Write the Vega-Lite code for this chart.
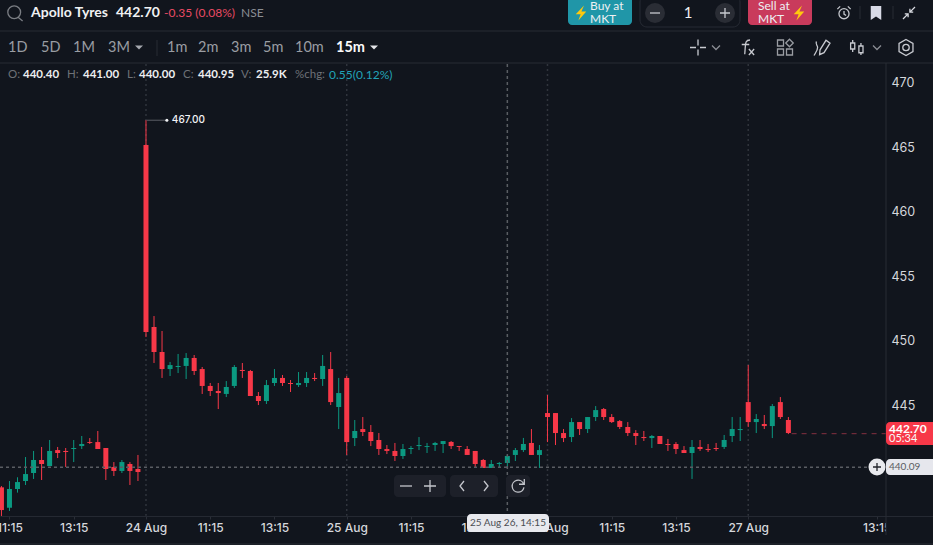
{
  "$schema": "https://vega.github.io/schema/vega-lite/v6.json",
  "width": 933,
  "height": 545,
  "padding": 0,
  "autosize": {"type": "none"},
  "background": "#11151D",
  "config": {"view": {"stroke": null}},
  "datasets": {
    "candles": [
      {"i":-18,"open":438.54,"high":438.64,"low":436.32,"close":436.78},
      {"i":-17,"open":436.96,"high":439.03,"low":436.71,"close":438.41},
      {"i":-16,"open":438.41,"high":439.32,"low":438.13,"close":438.95},
      {"i":-15,"open":439.03,"high":440.89,"low":438.72,"close":439.57},
      {"i":-14,"open":439.65,"high":441.36,"low":439.19,"close":440.66},
      {"i":-13,"open":440.66,"high":441.67,"low":439.11,"close":440.35},
      {"i":-12,"open":440.19,"high":442.21,"low":440.19,"close":441.36},
      {"i":-11,"open":441.43,"high":441.67,"low":440.81,"close":441.2},
      {"i":-10,"open":441.36,"high":441.59,"low":440.12,"close":441.28},
      {"i":-9,"open":441.51,"high":442.21,"low":440.5,"close":441.59},
      {"i":-8,"open":441.74,"high":442.52,"low":441.51,"close":441.9},
      {"i":-7,"open":442.05,"high":442.36,"low":441.9,"close":441.98},
      {"i":-6,"open":442.05,"high":442.91,"low":441.51,"close":441.51},
      {"i":-5,"open":441.59,"high":441.59,"low":439.11,"close":439.96},
      {"i":-4,"open":440.12,"high":440.5,"low":439.42,"close":439.81},
      {"i":-3,"open":439.81,"high":440.66,"low":439.65,"close":440.5},
      {"i":-2,"open":440.35,"high":440.5,"low":438.72,"close":439.81},
      {"i":-1,"open":439.96,"high":441.05,"low":439.03,"close":439.73},
      {"i":0,"open":465.08,"high":467.0,"low":450.19,"close":450.58},
      {"i":1,"open":450.97,"high":451.82,"low":448.18,"close":449.03},
      {"i":2,"open":449.03,"high":450.66,"low":447.02,"close":447.71},
      {"i":3,"open":447.71,"high":448.26,"low":447.17,"close":448.02},
      {"i":4,"open":447.87,"high":448.88,"low":447.4,"close":447.95},
      {"i":5,"open":447.95,"high":448.95,"low":446.94,"close":448.57},
      {"i":6,"open":448.57,"high":448.8,"low":447.25,"close":447.56},
      {"i":7,"open":447.71,"high":447.87,"low":445.78,"close":446.4},
      {"i":8,"open":446.4,"high":446.63,"low":445.62,"close":446.01},
      {"i":9,"open":446.01,"high":446.63,"low":444.61,"close":445.85},
      {"i":10,"open":445.78,"high":446.78,"low":445.54,"close":446.32},
      {"i":11,"open":446.4,"high":448.02,"low":446.24,"close":447.87},
      {"i":12,"open":447.64,"high":448.18,"low":447.02,"close":447.56},
      {"i":13,"open":447.56,"high":447.64,"low":445.62,"close":445.62},
      {"i":14,"open":445.62,"high":445.93,"low":444.92,"close":445.23},
      {"i":15,"open":445.23,"high":446.86,"low":445.0,"close":446.47},
      {"i":16,"open":446.63,"high":447.71,"low":446.4,"close":447.02},
      {"i":17,"open":447.02,"high":447.25,"low":446.4,"close":446.63},
      {"i":18,"open":446.63,"high":446.86,"low":445.93,"close":446.55},
      {"i":19,"open":446.47,"high":447.48,"low":446.32,"close":446.63},
      {"i":20,"open":446.63,"high":447.48,"low":446.32,"close":447.02},
      {"i":21,"open":447.02,"high":447.4,"low":446.78,"close":446.94},
      {"i":22,"open":446.94,"high":448.8,"low":446.4,"close":447.95},
      {"i":23,"open":447.71,"high":449.03,"low":444.92,"close":445.15},
      {"i":24,"open":444.77,"high":447.02,"low":443.06,"close":445.85},
      {"i":25,"open":447.02,"high":447.17,"low":441.05,"close":442.05},
      {"i":26,"open":442.36,"high":443.76,"low":441.74,"close":442.91},
      {"i":27,"open":443.06,"high":443.99,"low":442.52,"close":442.83},
      {"i":28,"open":442.83,"high":443.37,"low":441.74,"close":442.13},
      {"i":29,"open":442.21,"high":442.75,"low":441.05,"close":441.51},
      {"i":30,"open":441.51,"high":441.82,"low":441.12,"close":441.36},
      {"i":31,"open":441.36,"high":441.98,"low":440.58,"close":440.97},
      {"i":32,"open":440.97,"high":441.9,"low":440.74,"close":441.51},
      {"i":33,"open":441.51,"high":441.74,"low":441.12,"close":441.59},
      {"i":34,"open":441.74,"high":442.44,"low":441.43,"close":441.82},
      {"i":35,"open":441.67,"high":441.98,"low":441.2,"close":441.74},
      {"i":36,"open":441.82,"high":442.06,"low":441.36,"close":441.98},
      {"i":37,"open":441.9,"high":442.13,"low":441.2,"close":442.13},
      {"i":38,"open":442.06,"high":442.13,"low":441.51,"close":441.74},
      {"i":39,"open":441.74,"high":441.74,"low":441.36,"close":441.67},
      {"i":40,"open":441.51,"high":441.74,"low":441.05,"close":441.05},
      {"i":41,"open":441.36,"high":441.36,"low":440.12,"close":440.35},
      {"i":42,"open":440.66,"high":440.74,"low":440.04,"close":440.04},
      {"i":43,"open":440.04,"high":440.66,"low":440.04,"close":440.35},
      {"i":44,"open":440.35,"high":440.5,"low":440.04,"close":440.43},
      {"i":45,"open":440.43,"high":441.05,"low":440.12,"close":440.97},
      {"i":46,"open":441.05,"high":441.59,"low":440.58,"close":441.43},
      {"i":47,"open":441.43,"high":442.37,"low":441.28,"close":441.9},
      {"i":48,"open":441.98,"high":443.06,"low":441.05,"close":441.05},
      {"i":49,"open":441.05,"high":441.82,"low":440.04,"close":441.43},
      {"i":50,"open":444.3,"high":445.7,"low":442.05,"close":443.99},
      {"i":51,"open":444.3,"high":444.3,"low":441.82,"close":442.75},
      {"i":52,"open":442.75,"high":443.06,"low":442.05,"close":442.36},
      {"i":53,"open":442.44,"high":443.91,"low":442.05,"close":443.6},
      {"i":54,"open":443.6,"high":443.6,"low":442.6,"close":443.06},
      {"i":55,"open":443.06,"high":443.99,"low":442.75,"close":443.99},
      {"i":56,"open":443.99,"high":444.84,"low":443.68,"close":444.53},
      {"i":57,"open":444.61,"high":444.69,"low":443.76,"close":443.99},
      {"i":58,"open":443.99,"high":444.22,"low":443.53,"close":443.6},
      {"i":59,"open":443.68,"high":443.76,"low":443.06,"close":443.22},
      {"i":60,"open":443.22,"high":443.6,"low":442.52,"close":442.75},
      {"i":61,"open":442.75,"high":442.98,"low":441.82,"close":442.52},
      {"i":62,"open":442.44,"high":442.91,"low":442.13,"close":442.36},
      {"i":63,"open":442.36,"high":442.6,"low":441.59,"close":442.52},
      {"i":64,"open":442.52,"high":442.52,"low":441.9,"close":441.9},
      {"i":65,"open":441.9,"high":442.29,"low":441.36,"close":441.82},
      {"i":66,"open":441.9,"high":442.05,"low":441.12,"close":441.51},
      {"i":67,"open":441.43,"high":441.74,"low":441.2,"close":441.2},
      {"i":68,"open":441.2,"high":442.21,"low":439.19,"close":441.67},
      {"i":69,"open":441.67,"high":442.21,"low":441.36,"close":441.51},
      {"i":70,"open":441.51,"high":441.9,"low":441.28,"close":441.43},
      {"i":71,"open":441.59,"high":441.98,"low":441.36,"close":441.51},
      {"i":72,"open":441.67,"high":442.6,"low":441.51,"close":442.21},
      {"i":73,"open":442.52,"high":443.99,"low":442.05,"close":443.06},
      {"i":74,"open":442.98,"high":443.99,"low":442.13,"close":443.06},
      {"i":75,"open":445.15,"high":448.02,"low":443.22,"close":443.6},
      {"i":76,"open":443.6,"high":444.22,"low":442.75,"close":443.84},
      {"i":77,"open":443.45,"high":444.15,"low":443.06,"close":443.29},
      {"i":78,"open":443.29,"high":445.0,"low":442.36,"close":444.84},
      {"i":79,"open":445.15,"high":445.54,"low":443.84,"close":443.99},
      {"i":80,"open":443.76,"high":443.99,"low":442.67,"close":442.75}
    ],
    "days": [{"i":0},{"i":25},{"i":50},{"i":75}],
    "crosshair": [{"i":45,"price":440.09}],
    "last": [{"i":80.4,"to":92.16,"price":442.7}],
    "peak": [{"i":0.1,"to":2.6,"price":467,"text":"467.00"}],
    "rects": [
      {"part":"buy","at":40,"to":43,"line":0,"lineTo":4},
      {"part":"sell","at":52,"to":56,"line":0,"lineTo":4},
      {"part":"pill","at":26,"to":29,"line":18,"lineTo":20},
      {"part":"pill","at":30,"to":34,"line":18,"lineTo":20},
      {"part":"pill","at":35,"to":38,"line":18,"lineTo":20},
      {"part":"tip","at":32,"to":39,"line":21,"lineTo":24},
      {"part":"tag","at":63,"to":68,"line":12,"lineTo":15},
      {"part":"cur","at":63,"to":68,"line":16,"lineTo":18}
    ],
    "seps": [
      {"at":0,"to":68,"line":6,"lineTo":6},
      {"at":0,"to":68,"line":10,"lineTo":10},
      {"at":0,"to":68,"line":26,"lineTo":26},
      {"at":63,"to":63,"line":10,"lineTo":25},
      {"at":13,"to":13,"line":7,"lineTo":9},
      {"at":60,"to":60,"line":1,"lineTo":3},
      {"at":65,"to":65,"line":1,"lineTo":3}
    ],
    "solid": [
      {"icon":"discStep","at":45,"line":2},
      {"icon":"discStep","at":49,"line":2},
      {"icon":"discAdd","at":62,"line":17},
      {"icon":"bolt","at":41,"line":2},
      {"icon":"bolt","at":55,"line":2},
      {"icon":"bookmark","at":61,"line":2},
      {"icon":"caretDim","at":12,"line":8},
      {"icon":"caretLit","at":25,"line":8}
    ],
    "outline": [
      {"icon":"search","at":2,"line":2},
      {"icon":"alarm","at":58,"line":2},
      {"icon":"collapse","at":67,"line":2},
      {"icon":"minusStep","at":45,"line":2},
      {"icon":"plusStep","at":49,"line":2},
      {"icon":"cross","at":47,"line":8},
      {"icon":"chev","at":48,"line":8},
      {"icon":"fx","at":51,"line":8},
      {"icon":"grid","at":54,"line":8},
      {"icon":"pen","at":57,"line":8},
      {"icon":"candle","at":59,"line":8},
      {"icon":"chev","at":62,"line":8},
      {"icon":"gear","at":66,"line":8},
      {"icon":"minusPill","at":27,"line":19},
      {"icon":"plusPill","at":28,"line":19},
      {"icon":"left","at":31,"line":19},
      {"icon":"right","at":33,"line":19},
      {"icon":"refresh","at":37,"line":19},
      {"icon":"plusAdd","at":62,"line":17}
    ],
    "labels": [
      {"text":"Apollo Tyres","at":4,"line":2,"kind":"title"},
      {"text":"442.70","at":10,"line":2,"kind":"title"},
      {"text":"-0.35 (0.08%)","at":14,"line":2,"kind":"move"},
      {"text":"NSE","at":19,"line":2,"kind":"venue"},
      {"text":"Buy at","at":42,"line":1,"kind":"trade"},
      {"text":"MKT","at":42,"line":3,"kind":"trade"},
      {"text":"Sell at","at":53,"line":1,"kind":"trade"},
      {"text":"MKT","at":53,"line":3,"kind":"trade"},
      {"text":"1","at":46,"line":2,"kind":"qty"},
      {"text":"1D","at":1,"line":8,"kind":"range"},
      {"text":"5D","at":5,"line":8,"kind":"range"},
      {"text":"1M","at":7,"line":8,"kind":"range"},
      {"text":"3M","at":9,"line":8,"kind":"range"},
      {"text":"1m","at":15,"line":8,"kind":"range"},
      {"text":"2m","at":17,"line":8,"kind":"range"},
      {"text":"3m","at":18,"line":8,"kind":"range"},
      {"text":"5m","at":21,"line":8,"kind":"range"},
      {"text":"10m","at":22,"line":8,"kind":"range"},
      {"text":"15m","at":24,"line":8,"kind":"active"},
      {"text":"O:","at":1,"line":11,"kind":"key"},
      {"text":"440.40","at":3,"line":11,"kind":"val"},
      {"text":"H:","at":6,"line":11,"kind":"key"},
      {"text":"441.00","at":8,"line":11,"kind":"val"},
      {"text":"L:","at":11,"line":11,"kind":"key"},
      {"text":"440.00","at":12,"line":11,"kind":"val"},
      {"text":"C:","at":16,"line":11,"kind":"key"},
      {"text":"440.95","at":17,"line":11,"kind":"val"},
      {"text":"V:","at":19,"line":11,"kind":"key"},
      {"text":"25.9K","at":20,"line":11,"kind":"val"},
      {"text":"%chg:","at":22,"line":11,"kind":"key"},
      {"text":"0.55(0.12%)","at":23,"line":11,"kind":"chg"},
      {"text":"442.70","at":64,"line":13,"kind":"tag"},
      {"text":"05:34","at":64,"line":14,"kind":"clock"},
      {"text":"440.09","at":64,"line":17,"kind":"cur"},
      {"text":"25 Aug 26, 14:15","at":36,"line":23,"kind":"tip"}
    ]
  },
  "layer": [
    {
      "encoding": {
        "x": {
          "field": "i",
          "type": "quantitative",
          "scale": {"domain": [-18.18, 98.01], "nice": false, "padding": 0},
          "axis": {
            "orient": "bottom",
            "offset": -29,
            "title": null,
            "grid": false,
            "values": [-17, -9, 0, 8, 16, 25, 33, 41, 50, 58, 66, 75, 91],
            "labelExpr": "datum.value == 0 ? '24 Aug' : datum.value == 25 ? '25 Aug' : datum.value == 50 ? '26 Aug' : datum.value == 75 ? '27 Aug' : indexof([-17, 8, 33, 58], datum.value) >= 0 ? '11:15' : '13:15'",
            "labelFont": "Inter",
            "labelFontSize": 12,
            "labelFontWeight": 500,
            "labelColor": "#D5D7DC",
            "labelPadding": 3,
            "labelBound": false,
            "labelFlush": false,
            "labelOverlap": false,
            "tickSize": 3,
            "tickColor": "#2A2E37",
            "domainColor": "#252932"
          }
        }
      },
      "layer": [
        {
          "data": {"name": "days"},
          "mark": {"type": "rule", "color": "#30343C", "strokeDash": [2, 3], "strokeWidth": 1.5},
          "encoding": {
            "y": {"datum": 471.36, "scale": {"domain": [434.07, 476.32], "nice": false, "zero": false}, "axis": {
              "orient": "right",
              "offset": -47,
              "title": null,
              "grid": false,
              "domain": false,
              "ticks": false,
              "values": [445, 450, 455, 460, 465, 470],
              "labelFont": "Inter",
              "labelFontSize": 12.5,
              "labelColor": "#D5D7DC",
              "labelPadding": 5,
              "labelOffset": 1,
              "labelBound": false,
              "labelFlush": false,
              "labelOverlap": false
            }},
            "y2": {"datum": 436.33}
          }
        },
        {
          "data": {"name": "candles"},
          "mark": {"type": "rule", "strokeWidth": 1},
          "encoding": {
            "y": {"field": "low", "type": "quantitative", "scale": {"domain": [434.07, 476.32], "nice": false, "zero": false}},
            "y2": {"field": "high"},
            "color": {"condition": {"test": "datum.close < datum.open", "value": "#F73848"}, "value": "#0B9981"}
          }
        },
        {
          "data": {"name": "candles"},
          "mark": {"type": "bar", "size": 5},
          "encoding": {
            "y": {"field": "open", "type": "quantitative", "scale": {"domain": [434.07, 476.32], "nice": false, "zero": false}},
            "y2": {"field": "close"},
            "color": {"condition": {"test": "datum.close < datum.open", "value": "#F73848"}, "value": "#0B9981"}
          }
        },
        {
          "data": {"name": "crosshair"},
          "mark": {"type": "rule", "color": "#5A5D63", "strokeDash": [3, 3], "strokeWidth": 1.5},
          "encoding": {
            "y": {"datum": 471.36, "scale": {"domain": [434.07, 476.32], "nice": false, "zero": false}},
            "y2": {"datum": 436.33}
          }
        },
        {
          "data": {"name": "crosshair"},
          "mark": {"type": "rule", "color": "#5A5D63", "strokeDash": [3, 3], "strokeWidth": 1.5},
          "encoding": {
            "x": {"datum": -18.18},
            "x2": {"datum": 90},
            "y": {"field": "price", "type": "quantitative", "scale": {"domain": [434.07, 476.32], "nice": false, "zero": false}}
          }
        },
        {
          "data": {"name": "last"},
          "mark": {"type": "rule", "color": "#84303F", "strokeDash": [5, 5], "strokeWidth": 1},
          "encoding": {
            "x2": {"field": "to"},
            "y": {"field": "price", "type": "quantitative", "scale": {"domain": [434.07, 476.32], "nice": false, "zero": false}}
          }
        },
        {
          "data": {"name": "peak"},
          "mark": {"type": "rule", "color": "#5A5D64", "strokeWidth": 1},
          "encoding": {
            "x2": {"field": "to"},
            "y": {"field": "price", "type": "quantitative", "scale": {"domain": [434.07, 476.32], "nice": false, "zero": false}}
          }
        },
        {
          "data": {"name": "peak"},
          "mark": {"type": "point", "filled": true, "size": 9, "color": "#F2F3F5", "opacity": 1},
          "encoding": {
            "x": {"field": "to", "type": "quantitative"},
            "y": {"field": "price", "type": "quantitative", "scale": {"domain": [434.07, 476.32], "nice": false, "zero": false}}
          }
        },
        {
          "data": {"name": "peak"},
          "mark": {"type": "text", "align": "left", "dx": 5, "font": "Inter", "fontSize": 10, "fontWeight": 500, "color": "#F2F3F5"},
          "encoding": {
            "x": {"field": "to", "type": "quantitative"},
            "y": {"field": "price", "type": "quantitative", "scale": {"domain": [434.07, 476.32], "nice": false, "zero": false}},
            "text": {"field": "text"}
          }
        }
      ]
    },
    {
      "encoding": {
        "x": {
          "field": "at",
          "type": "quantitative",
          "axis": null,
          "scale": {
            "domain": [0,1,2,3,4,5,6,7,8,9,10,11,12,13,14,15,16,17,18,19,20,21,22,23,24,25,26,27,28,29,30,31,32,33,34,35,36,37,38,39,40,41,42,43,44,45,46,47,48,49,50,51,52,53,54,55,56,57,58,59,60,61,62,63,64,65,66,67,68],
            "range": [0,8,15,23,31,41,67,73,83,108,116,127,139,157,164,167,183,198,231,241,256,263,295,329,336,374,394,406,430,446,450,462,467,486,498,506,508,518,530,549,568,581,590,632,640,655,688,698,716,725,740,747,748,758,785,799,812,822,844,857,860,876,877,886,889,893,906,909,940]
          }
        },
        "y": {
          "field": "line",
          "type": "quantitative",
          "axis": null,
          "scale": {
            "domain": [0,1,2,3,4,5,6,7,8,9,10,11,12,13,14,15,16,17,18,19,20,21,22,23,24,25,26,27],
            "range": [-5,6,13,19,25,27,31,40,47.5,56,63,75,422,428.5,438.5,445,459,467,475,486,497,514,517,523,532,535,544,545]
          }
        }
      },
      "resolve": {"scale": {"color": "independent", "shape": "independent", "size": "independent"}},
      "layer": [
        {
          "data": {"values": [{"at": 63, "to": 68, "line": 22, "lineTo": 26}]},
          "mark": {"type": "rect", "color": "#11151D"},
          "encoding": {"x2": {"field": "to"}, "y2": {"field": "lineTo"}}
        },
        {
          "data": {"name": "seps"},
          "mark": {"type": "rule", "color": "#282C35", "strokeWidth": 1},
          "encoding": {"x2": {"field": "to"}, "y2": {"field": "lineTo"}}
        },
        {
          "data": {"values": [{"at": 44, "to": 50, "line": 0, "lineTo": 5}]},
          "mark": {"type": "rect", "fill": null, "stroke": "#272B34", "strokeWidth": 1, "cornerRadius": 7},
          "encoding": {"x2": {"field": "to"}, "y2": {"field": "lineTo"}}
        },
        {
          "data": {"name": "rects"},
          "mark": {"type": "rect", "cornerRadius": 4},
          "encoding": {
            "x2": {"field": "to"},
            "y2": {"field": "lineTo"},
            "color": {
              "field": "part",
              "type": "nominal",
              "legend": null,
              "scale": {
                "domain": ["buy", "sell", "pill", "tip", "tag", "cur"],
                "range": ["#2096A8", "#C93B5C", "#1D2029", "#E8E9EE", "#F73848", "#E6E7ED"]
              }
            }
          }
        },
        {
          "data": {"name": "solid"},
          "mark": {"type": "point", "filled": true, "opacity": 1},
          "encoding": {
            "shape": {
              "field": "icon",
              "type": "nominal",
              "legend": null,
              "scale": {
                "domain": ["discStep", "discAdd", "bolt", "bookmark", "caretDim", "caretLit"],
                "range": ["circle", "circle", "M0.4,-1L-0.7,0.15H-0.05L-0.35,1L0.7,-0.2H0.05Z", "M-0.75,-1H0.75V1L0,0.5L-0.75,1Z", "M-1,-0.5H1L0,0.5Z", "M-1,-0.5H1L0,0.5Z"]
              }
            },
            "size": {
              "field": "icon",
              "type": "nominal",
              "legend": null,
              "scale": {
                "type": "ordinal",
                "domain": ["discStep", "discAdd", "bolt", "bookmark", "caretDim", "caretLit"],
                "range": [400, 289, 225, 196, 64, 64]
              }
            },
            "color": {
              "field": "icon",
              "type": "nominal",
              "legend": null,
              "scale": {
                "domain": ["discStep", "discAdd", "bolt", "bookmark", "caretDim", "caretLit"],
                "range": ["#2A2D35", "#E9EAEE", "#FFC90E", "#D8DAE6", "#A6A9AF", "#E4E5E8"]
              }
            }
          }
        },
        {
          "data": {"name": "outline"},
          "mark": {"type": "point", "filled": false, "opacity": 1, "strokeWidth": 1.3},
          "encoding": {
            "shape": {
              "field": "icon",
              "type": "nominal",
              "legend": null,
              "scale": {
                "domain": ["search", "alarm", "collapse", "minusStep", "plusStep", "cross", "chev", "fx", "grid", "pen", "candle", "gear", "minusPill", "plusPill", "left", "right", "refresh", "plusAdd"],
                "range": [
                  "M0.7,-0.1A0.8,0.8 0 1 1 -0.9,-0.1A0.8,0.8 0 1 1 0.7,-0.1M0.35,0.5L0.95,1",
                  "M0.72,0.1A0.72,0.72 0 1 1 -0.72,0.1A0.72,0.72 0 1 1 0.72,0.1M0,-0.3V0.15L0.3,0.35M-0.95,-0.55L-0.55,-0.95M0.95,-0.55L0.55,-0.95",
                  "M1,-1L0.15,-0.15M0.15,-0.7V-0.15H0.7M-1,1L-0.15,0.15M-0.15,0.7V0.15H-0.7",
                  "M-1,0H1",
                  "M-1,0H1M0,-1V1",
                  "M-1,0H-0.25M0.25,0H1M0,-1V-0.25M0,0.25V1",
                  "M-1,-0.5L0,0.5L1,-0.5",
                  "M0.4,-1C-0.2,-1 -0.2,-0.6 -0.25,0.2L-0.3,0.9M-0.7,-0.4H0.3M0.25,0.2L0.95,1M0.95,0.2L0.25,1",
                  "M-1,-1H-0.2V-0.2H-1ZM-1,0.2H-0.2V1H-1ZM0.2,0.2H1V1H0.2ZM0.6,-1.1L1.1,-0.6L0.6,-0.1L0.1,-0.6Z",
                  "M-0.25,0.3L0.5,-0.9L1,-0.55L0.25,0.65L-0.3,0.9ZM-1,1C-0.75,0.55 -0.55,0.35 -0.55,0C-0.55,-0.3 -0.85,-0.35 -0.7,-0.75",
                  "M-0.85,-0.6H-0.3V0.2H-0.85ZM-0.575,-1V-0.6M-0.575,0.2V0.6M0.25,-0.2H0.8V0.7H0.25ZM0.525,-0.6V-0.2M0.525,0.7V1",
                  "M0,-1L0.87,-0.5V0.5L0,1L-0.87,0.5V-0.5ZM0.4,0A0.4,0.4 0 1 1 -0.4,0A0.4,0.4 0 1 1 0.4,0",
                  "M-1,0H1",
                  "M-1,0H1M0,-1V1",
                  "M0.4,-1L-0.4,0L0.4,1",
                  "M-0.4,-1L0.4,0L-0.4,1",
                  "M0.8,-0.3A0.85,0.85 0 1 0 0.85,0.2M0.9,-1V-0.25H0.15",
                  "M-1,0H1M0,-1V1"
                ]
              }
            },
            "size": {
              "field": "icon",
              "type": "nominal",
              "legend": null,
              "scale": {
                "type": "ordinal",
                "domain": ["search", "alarm", "collapse", "minusStep", "plusStep", "cross", "chev", "fx", "grid", "pen", "candle", "gear", "minusPill", "plusPill", "left", "right", "refresh", "plusAdd"],
                "range": [256, 196, 144, 100, 100, 256, 64, 225, 225, 256, 225, 256, 144, 144, 100, 100, 196, 64]
              }
            },
            "color": {
              "field": "icon",
              "type": "nominal",
              "legend": null,
              "scale": {
                "domain": ["search", "alarm", "collapse", "minusStep", "plusStep", "cross", "chev", "fx", "grid", "pen", "candle", "gear", "minusPill", "plusPill", "left", "right", "refresh", "plusAdd"],
                "range": ["#7B7E84", "#C4C6CC", "#D8DAE0", "#C8CAD0", "#C8CAD0", "#C8CAD0", "#8A8D93", "#C8CAD0", "#9A9DA3", "#C8CAD0", "#C8CAD0", "#C8CAD0", "#C4C6CC", "#C4C6CC", "#C4C6CC", "#C4C6CC", "#C4C6CC", "#22252B"]
              }
            }
          }
        },
        {
          "data": {"name": "labels"},
          "transform": [{"filter": {"field": "kind", "oneOf": ["move", "venue", "trade", "range", "key", "chg", "clock", "cur"]}}],
          "mark": {"type": "text", "align": "left", "baseline": "middle", "font": "Lato"},
          "encoding": {
            "text": {"field": "text"},
            "size": {
              "field": "kind",
              "type": "nominal",
              "legend": null,
              "scale": {
                "type": "ordinal",
                "domain": ["move", "venue", "trade", "range", "key", "chg", "clock", "cur"],
                "range": [12, 12, 12, 14.5, 11.5, 12, 11, 10]
              }
            },
            "color": {
              "field": "kind",
              "type": "nominal",
              "legend": null,
              "scale": {
                "domain": ["move", "venue", "trade", "range", "key", "chg", "clock", "cur"],
                "range": ["#E84A63", "#8A8D93", "#EDF0F3", "#9A9DA3", "#6E7177", "#22A3B8", "#F8F8F8", "#5A5D63"]
              }
            }
          }
        },
        {
          "data": {"name": "labels"},
          "transform": [{"filter": {"field": "kind", "oneOf": ["title", "active", "val", "tag"]}}],
          "mark": {"type": "text", "align": "left", "baseline": "middle", "font": "Lato", "fontWeight": "bold"},
          "encoding": {
            "text": {"field": "text"},
            "size": {
              "field": "kind",
              "type": "nominal",
              "legend": null,
              "scale": {"type": "ordinal", "domain": ["title", "active", "val", "tag"], "range": [14, 14.5, 11.5, 12]}
            },
            "color": {
              "field": "kind",
              "type": "nominal",
              "legend": null,
              "scale": {"domain": ["title", "active", "val", "tag"], "range": ["#F0F1F3", "#FAFAFA", "#EDEEF0", "#FFFFFF"]}
            }
          }
        },
        {
          "data": {"name": "labels"},
          "transform": [{"filter": {"field": "kind", "oneOf": ["qty", "tip"]}}],
          "mark": {"type": "text", "align": "center", "baseline": "middle", "font": "Lato"},
          "encoding": {
            "text": {"field": "text"},
            "size": {
              "field": "kind",
              "type": "nominal",
              "legend": null,
              "scale": {"type": "ordinal", "domain": ["qty", "tip"], "range": [15, 10]}
            },
            "color": {
              "field": "kind",
              "type": "nominal",
              "legend": null,
              "scale": {"domain": ["qty", "tip"], "range": ["#F0F1F3", "#4A4D53"]}
            }
          }
        }
      ]
    }
  ],
  "resolve": {"scale": {"x": "independent", "y": "independent"}}
}
